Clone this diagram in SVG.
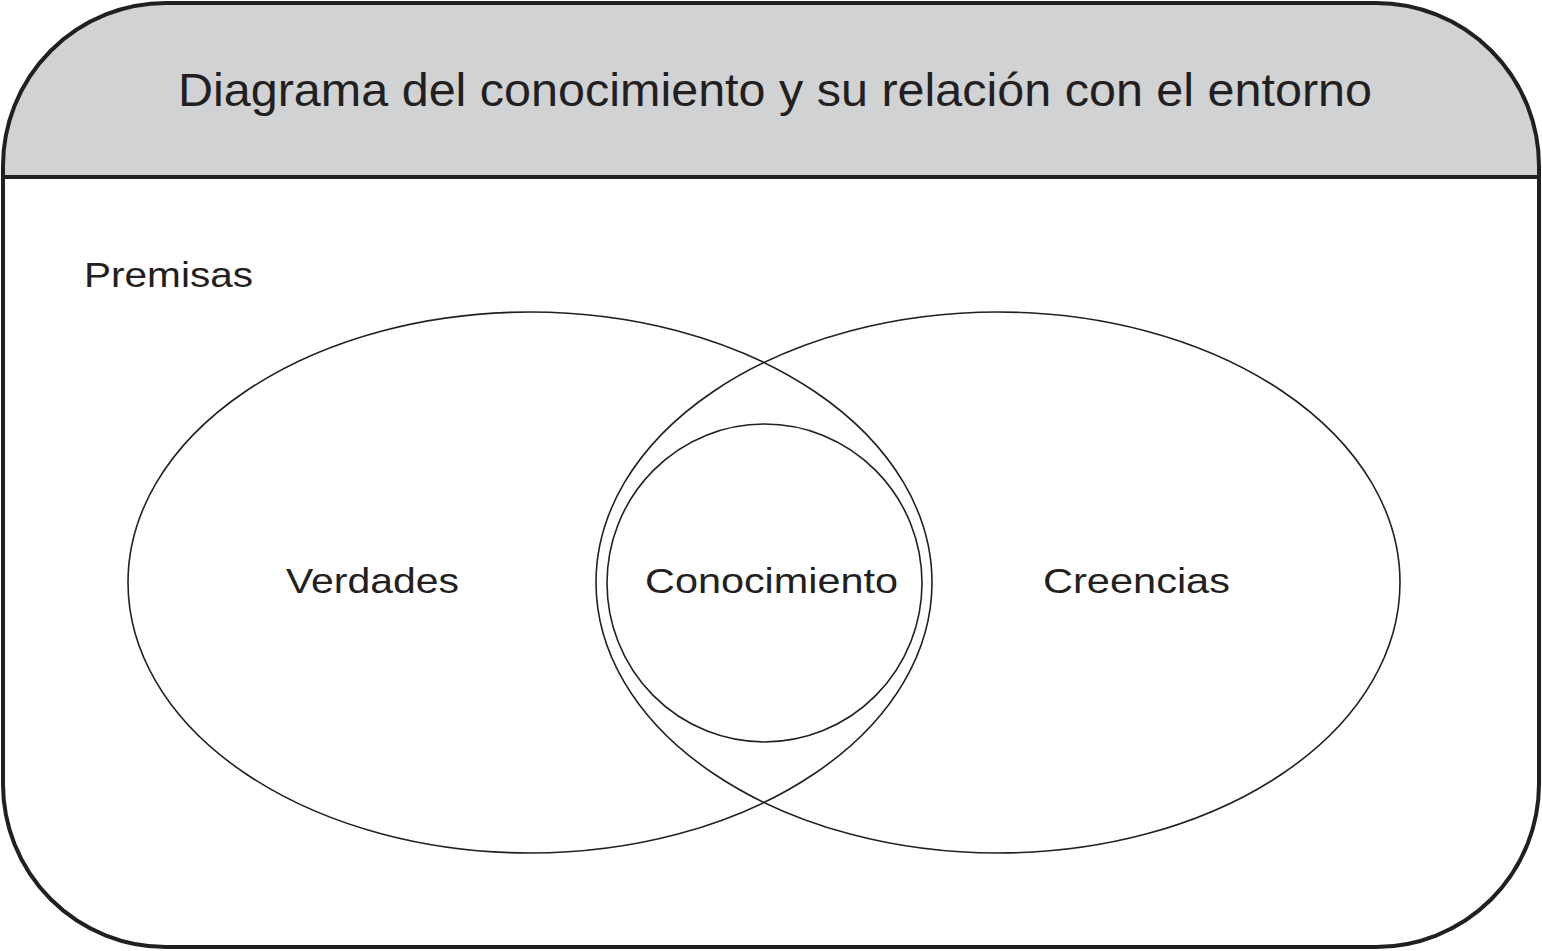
<svg xmlns="http://www.w3.org/2000/svg" width="1542" height="951" viewBox="0 0 1542 951">
<defs>
<clipPath id="hdr"><rect x="0" y="0" width="1542" height="177"/></clipPath>
</defs>
<style>
.t{font-family:"Liberation Sans",Arial,sans-serif;fill:#231f20}
.s{fill:none;stroke:#231f20;stroke-width:1.6}
</style>
<rect width="1542" height="951" fill="#ffffff"/>
<g id="frame">
<rect x="3" y="3" width="1536" height="944" rx="163" ry="163" fill="#d1d2d4" clip-path="url(#hdr)"/>
<rect x="3" y="3" width="1536" height="944" rx="163" ry="163" fill="none" stroke="#231f20" stroke-width="4"/>
<line x1="3" y1="177" x2="1539" y2="177" stroke="#231f20" stroke-width="4"/>
<text class="t" x="178" y="106" font-size="46.5" textLength="1194" lengthAdjust="spacingAndGlyphs">Diagrama del conocimiento y su relación con el entorno</text>
</g>
<g id="premisas">
<text class="t" x="84" y="287" font-size="34.5" textLength="169" lengthAdjust="spacingAndGlyphs">Premisas</text>
</g>
<g id="verdades">
<ellipse class="s" cx="530" cy="582.5" rx="402" ry="270.5"/>
<text class="t" x="286" y="593" font-size="35" textLength="173" lengthAdjust="spacingAndGlyphs">Verdades</text>
</g>
<g id="creencias">
<ellipse class="s" cx="998" cy="582.5" rx="402" ry="270.5"/>
<text class="t" x="1043" y="593" font-size="35" textLength="187" lengthAdjust="spacingAndGlyphs">Creencias</text>
</g>
<g id="conocimiento">
<ellipse class="s" cx="764.5" cy="583" rx="157.5" ry="159"/>
<text class="t" x="645" y="593" font-size="35" textLength="253" lengthAdjust="spacingAndGlyphs">Conocimiento</text>
</g>
<g id="connectors"></g>
</svg>
